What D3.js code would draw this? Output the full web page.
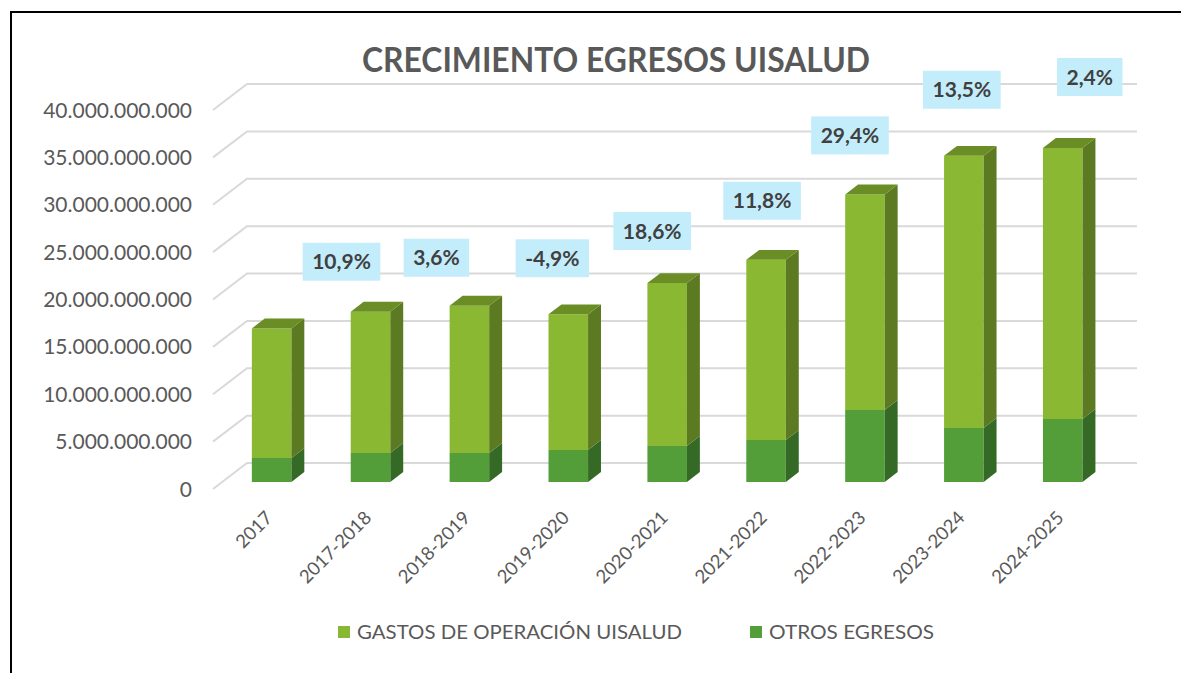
<!DOCTYPE html>
<html>
<head>
<meta charset="utf-8">
<script src="https://cdnjs.cloudflare.com/ajax/libs/d3/7.8.5/d3.min.js"></script>
<style>
    html, body { margin: 0; padding: 0; background: #ffffff; }
    svg { display: block; font-family: Lato, "Open Sans", sans-serif; }
</style>
</head>
<body>
<div id="chart"></div>
<script>
// chart data
var categories = ['2017', '2017-2018', '2018-2019', '2019-2020', '2020-2021', '2021-2022', '2022-2023', '2023-2024', '2024-2025'];
var gastos = [13670000000, 14910000000, 15540000000, 14320000000, 17200000000, 19020000000, 22750000000, 28730000000, 28600000000];
var otros = [2530000000, 3060000000, 3060000000, 3380000000, 3800000000, 4430000000, 7600000000, 5700000000, 6650000000];
var crecimiento = [null, 10.9, 3.6, -4.9, 18.6, 11.8, 29.4, 13.5, 2.4];
var yTicks = [0, 5000000000, 10000000000, 15000000000, 20000000000, 25000000000, 30000000000, 35000000000, 40000000000];
var seriesNames = ['GASTOS DE OPERACIÓN UISALUD', 'OTROS EGRESOS'];

// manual placement of the growth boxes (dx, dy from the bar top), like in the original sheet
var labelShift = [null, [-29, -50], [-33, -48], [-16, -56], [-15, -52], [-4, -59], [-15, -59], [-2, -66], [27, -71]];

var EgresosChart = {
    width: 1181,
    height: 673,
    floorLeft: 213,
    floorRight: 1103,
    depthX: 34,
    depthY: -26,
    barDepth: 0.27,
    barThick: 0.38,
    colors: {
        gastos: { front: '#8AB833', side: '#5C7A21', top: '#6A8D26' },
        otros: { front: '#549E39', side: '#356A26', top: '#447F2E' },
        grid: '#D9D9D9',
        text: '#595959',
        label: '#404040',
        labelBox: '#C4EDFB'
    },
    svg: null,
    x: null,
    y: null,
    locale: d3.formatLocale({ decimal: ',', thousands: '.', grouping: [3], currency: ['$', ''], minus: '-' }),

    draw: function () {
        this.svg = d3.select('#chart').append('svg')
            .attr('width', this.width)
            .attr('height', this.height);

        this.x = d3.scaleBand()
            .domain(categories)
            .range([this.floorLeft, this.floorRight])
            .paddingInner(0.6)
            .paddingOuter(0.3);

        this.y = d3.scaleLinear()
            .domain([0, 40000000000])
            .range([489, 110]);

        this.drawFrame();
        this.drawGrid();
        this.drawBars();
        this.drawXLabels();
        this.drawGrowth();
        this.drawTitle();
        this.drawLegend();
    },
    proj: function (px, py, d) {
        return [px + this.depthX * d, py + this.depthY * d];
    },
    drawFrame: function () {
        this.svg.append('rect')
            .attr('x', 11)
            .attr('y', 12)
            .attr('width', 1300)
            .attr('height', 800)
            .attr('fill', 'none')
            .attr('stroke', '#000000')
            .attr('stroke-width', 2);
    },
    drawGrid: function () {
        var self = this;
        var fmt = this.locale.format(',.0f');

        this.svg.append('g').selectAll('path')
            .data(yTicks)
            .enter()
            .append('path')
            .attr('d', function (d) {
                var p0 = [self.floorLeft, self.y(d)];
                var p1 = self.proj(self.floorLeft, self.y(d), 1);
                var p2 = self.proj(self.floorRight, self.y(d), 1);
                return 'M' + p0 + 'L' + p1 + 'L' + p2;
            })
            .attr('fill', 'none')
            .attr('stroke', this.colors.grid)
            .attr('stroke-width', 2);

        this.svg.append('g').selectAll('text')
            .data(yTicks)
            .enter()
            .append('text')
            .attr('x', 192)
            .attr('y', function (d) { return self.y(d); })
            .attr('dy', '0.36em')
            .attr('text-anchor', 'end')
            .attr('fill', this.colors.text)
            .style('font-size', '21px')
            .text(function (d) { return fmt(d); });
    },
    drawBars: function () {
        var self = this;
        var stack = d3.stack().keys(['otros', 'gastos']);
        var rows = categories.map(function (c, i) {
            return { cat: c, otros: otros[i], gastos: gastos[i] };
        });
        var layers = stack(rows);
        var bw = this.x.bandwidth();
        var d0 = this.barDepth;
        var d1 = this.barDepth + this.barThick;

        var poly = function (pts) {
            return 'M' + pts.join('L') + 'Z';
        };

        layers.forEach(function (layer) {
            var col = self.colors[layer.key];
            var g = self.svg.append('g').attr('class', 'layer-' + layer.key);
            var isTop = layer.key === 'gastos';

            var bars = g.selectAll('g')
                .data(layer)
                .enter()
                .append('g');

            // front face
            bars.append('path')
                .attr('fill', col.front)
                .attr('d', function (d) {
                    var xl = self.x(d.data.cat), xr = xl + bw;
                    var yb = self.y(d[0]), yt = self.y(d[1]);
                    return poly([self.proj(xl, yb, d0), self.proj(xr, yb, d0), self.proj(xr, yt, d0), self.proj(xl, yt, d0)]);
                });

            // right side face
            bars.append('path')
                .attr('fill', col.side)
                .attr('d', function (d) {
                    var xr = self.x(d.data.cat) + bw;
                    var yb = self.y(d[0]), yt = self.y(d[1]);
                    return poly([self.proj(xr, yb, d0), self.proj(xr, yb, d1), self.proj(xr, yt, d1), self.proj(xr, yt, d0)]);
                });

            if (isTop) {
                bars.append('path')
                    .attr('fill', col.top)
                    .attr('d', function (d) {
                        var xl = self.x(d.data.cat), xr = xl + bw;
                        var yt = self.y(d[1]);
                        return poly([self.proj(xl, yt, d0), self.proj(xr, yt, d0), self.proj(xr, yt, d1), self.proj(xl, yt, d1)]);
                    });
            }
        });
    },
    barCenter: function (cat) {
        return this.proj(this.x(cat) + this.x.bandwidth() / 2, 0, this.barDepth)[0];
    },
    drawXLabels: function () {
        var self = this;
        this.svg.append('g').selectAll('text')
            .data(categories)
            .enter()
            .append('text')
            .attr('transform', function (d) {
                return 'translate(' + (self.barCenter(d) + 2) + ',519) rotate(-45)';
            })
            .attr('text-anchor', 'end')
            .attr('fill', this.colors.text)
            .style('font-size', '18.5px')
            .text(function (d) { return d; });
    },
    drawGrowth: function () {
        var self = this;
        var fmt = this.locale.format('.1f');
        var items = [];
        crecimiento.forEach(function (v, i) {
            if (v !== null) {
                items.push({ v: v, i: i });
            }
        });

        var g = this.svg.append('g').selectAll('g')
            .data(items)
            .enter()
            .append('g')
            .attr('transform', function (d) {
                var cx = self.barCenter(categories[d.i]) + labelShift[d.i][0];
                var top = self.y(gastos[d.i] + otros[d.i]) + self.depthY * self.barDepth + labelShift[d.i][1];
                return 'translate(' + cx + ',' + top + ')';
            });

        g.append('text')
            .attr('text-anchor', 'middle')
            .attr('dy', '0.36em')
            .attr('fill', this.colors.label)
            .style('font-size', '21px')
            .style('font-weight', 'bold')
            .text(function (d) { return fmt(d.v) + '%'; });

        g.each(function () {
            var grp = d3.select(this);
            var w = grp.select('text').node().getComputedTextLength() + 19;
            grp.insert('rect', 'text')
                .attr('x', -w / 2)
                .attr('y', -19)
                .attr('width', w)
                .attr('height', 38)
                .attr('fill', self.colors.labelBox);
        });
    },
    drawTitle: function () {
        this.svg.append('text')
            .attr('x', 616)
            .attr('y', 72)
            .attr('text-anchor', 'middle')
            .attr('fill', this.colors.text)
            .attr('textLength', 508)
            .attr('lengthAdjust', 'spacingAndGlyphs')
            .style('font-size', '35px')
            .style('font-weight', 'bold')
            .text('CRECIMIENTO EGRESOS UISALUD');
    },
    drawLegend: function () {
        var self = this;
        var keys = ['gastos', 'otros'];
        var xs = [338, 750];
        var lens = [325, 165];

        var items = this.svg.append('g').selectAll('g')
            .data(seriesNames)
            .enter()
            .append('g')
            .attr('transform', function (d, i) { return 'translate(' + xs[i] + ',626)'; });

        items.append('rect')
            .attr('width', 12)
            .attr('height', 12)
            .attr('fill', function (d, i) { return self.colors[keys[i]].front; });

        items.append('text')
            .attr('x', 19)
            .attr('y', 13)
            .attr('fill', this.colors.text)
            .attr('textLength', function (d, i) { return lens[i]; })
            .attr('lengthAdjust', 'spacingAndGlyphs')
            .style('font-size', '20px')
            .text(function (d) { return d; });
    }
};

EgresosChart.draw();
</script>
</body>
</html>
